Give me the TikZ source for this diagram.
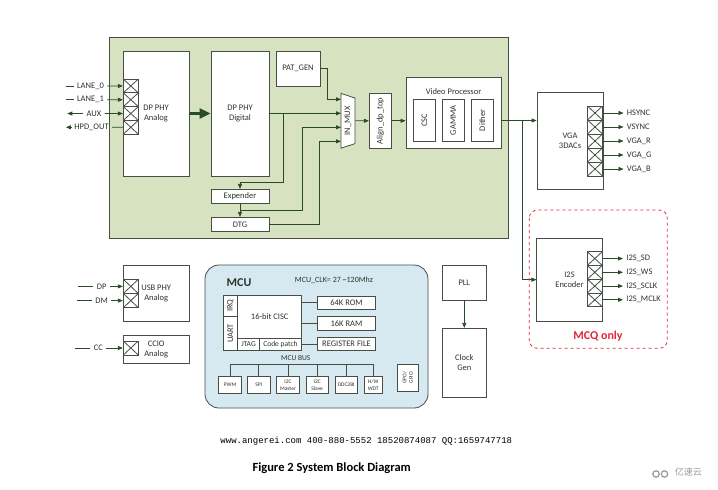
\documentclass[tikz,border=0pt]{standalone}
\usepackage{fontspec}
\setmainfont{Carlito}
\newfontfamily\cjkfont{Noto Sans CJK SC}
\newfontfamily\wwwfont{Liberation Mono}
\usetikzlibrary{arrows.meta,positioning,shapes.geometric}
\definecolor{socgreen}{RGB}{215,226,192}
\definecolor{mcublue}{RGB}{214,233,240}
\definecolor{edge}{RGB}{70,78,70}
\definecolor{wirec}{RGB}{40,75,40}
\definecolor{ink}{RGB}{45,52,45}
\definecolor{mcqred}{RGB}{228,38,58}
\tikzstyle{blk}=[draw=edge,fill=white,inner sep=1pt,align=center,text=ink,
  font=\fontsize{8.5}{10}\selectfont]
\tikzstyle{vblk}=[blk,rotate=90]
\tikzstyle{per}=[blk,minimum width=22.5,minimum height=17,
  font=\fontsize{5.5}{6.5}\selectfont]
\tikzstyle{xbox}=[draw=edge,fill=white,inner sep=0,minimum width=15,
  path picture={\draw[edge] (path picture bounding box.north west) --
    (path picture bounding box.south east) (path picture bounding box.south west)
    -- (path picture bounding box.north east);}]
\tikzstyle{port}=[inner sep=0pt,inner xsep=3pt,text=ink,
  font=\fontsize{8.5}{9.5}\selectfont]
\tikzstyle{link}=[draw=wirec]

\begin{document}
\begin{tikzpicture}[x=1pt, y=-1pt, >={Triangle[length=5pt,width=4pt]},
  line width=0.8pt, node distance=20pt, on grid]
  \useasboundingbox[fill=white] (0,0) rectangle (718,490);

  \fill[socgreen,draw=edge] (109,37) rectangle (508,238);

  \node[blk,minimum width=66,minimum height=125] (dpana) at (156,113.5) {DP PHY\\Analog};
  \node[blk,minimum width=58,minimum height=125] (dpdig) at (240,113.5) {DP PHY\\Digital};
  \node[blk,minimum width=58,minimum height=14,below=82.8pt of dpdig] (exp) {Expender};
  \node[blk,minimum width=58,minimum height=14,below=28pt of exp] (dtg) {DTG};
  \node[blk,minimum width=44,minimum height=35] (patgen) at (298,68.5) {PAT\_GEN};

  \node[draw=edge,fill=white,trapezium,trapezium stretches=true,trapezium angle=66,
    shape border rotate=180,rotate=90,minimum width=55,minimum height=14,inner sep=0,
    text=ink,font=\fontsize{8.5}{9.5}\selectfont] (mux) at (348,120.8) {IN\_MUX};
  \coordinate (in1) at (341,99.3);
  \coordinate (in2) at (341,113.3);
  \coordinate (in3) at (341,127.3);
  \coordinate (in4) at (341,141.3);

  \node[vblk,minimum width=55.6,minimum height=22] (align) at (380.3,120.8) {Align\_dp\_top};
  \node[blk,minimum width=95,minimum height=71] (vproc) at (453.5,112.8) {};
  \node[port] (vptitle) at (453.5,91.5) {Video Processor};
  \node[vblk,minimum width=41.7,minimum height=22.4] (csc) at (424.5,120.2) {CSC};
  \node[vblk,minimum width=41.7,minimum height=21.7] (gamma) at (453.2,120.2) {GAMMA};
  \node[vblk,minimum width=41.7,minimum height=22] (dither) at (482.3,120.2) {Dither};

  \draw[link,line width=2.5pt,-{Triangle[length=11pt,width=10pt]}] (dpana) -- (dpdig);
  \coordinate (br) at (283,113.3);
  \draw[link,->] (patgen.east) -- ++(7,0) |- (in1);
  \draw[link,->] (dpdig.east |- in2) -- (in2);
  \draw[link,->] (br) -- ++(0,69.4) -| (exp.north);
  \draw[link,->] (exp) -- (dtg);
  \draw[link,->] (exp.south) ++(0,6.7) -- ++(62,0) |- (in3);
  \draw[link,->] (dtg.east) -- ++(50,0) |- (in4);
  \draw[link,->] (mux) -- (align);
  \draw[link,->] (align) -- (align -| vproc.west);

  % DP input pins
  \foreach \i in {1,...,4}
    \node[xbox,minimum height=13.77] (ax\i) at (130.8,{72.2+13.77*\i}) {};
  \node[port] (lane0) at (90.5,86) {LANE\_0};
  \node[port] (lane1) at (90.5,99.8) {LANE\_1};
  \node[port] (aux) at (94,113.5) {AUX};
  \node[port] (hpd) at (91.5,127.3) {HPD\_OUT};
  \draw[link] (lane0.west) -- ++(-8,0) (lane1.west) -- ++(-8,0);
  \draw[link,->] (lane0) -- (ax1);
  \draw[link,->] (lane1) -- (ax2);
  \draw[link,->] (aux.west) -- ++(-16,0);
  \draw[link,->] (aux) -- (ax3);
  \draw[link,->] (hpd.west) -- ++(-5,0);
  \draw[link] (hpd) -- (ax4);

  % VGA and I2S
  \node[blk,minimum width=66,minimum height=96.6] (vga) at (570,141) {VGA\\3DACs};
  \node[blk,minimum width=65.3,minimum height=82.7] (i2s) at (569.5,279.7) {I2S\\Encoder};
  \coordinate (split) at (522.3,120.5);
  \draw[link,->] (vproc.east |- split) -- (vga.west |- split);
  \draw[link,->] (split) |- (i2s.west);
  \foreach \i/\t in {1/HSYNC,2/VSYNC,3/VGA\_R,4/VGA\_G,5/VGA\_B} {
    \node[xbox,minimum height=14] (vx\i) at (595,{99+14*\i}) {};
    \node[port,anchor=west] (vo\i) at (623.5,{99+14*\i}) {\t};
    \draw[link,->] (vx\i) -- (vo\i);
  }
  \foreach \i/\t in {1/I2S\_SD,2/I2S\_WS,3/I2S\_SCLK,4/I2S\_MCLK} {
    \node[xbox,minimum height=13.75] (ix\i) at (594.8,{244.8+13.75*\i}) {};
    \node[port,anchor=west] (io\i) at (623,{244.8+13.75*\i}) {\t};
    \draw[link,->] (ix\i) -- (io\i);
  }
  \draw[mcqred,dashed,rounded corners=8] (529.3,210) rectangle (667.3,348.3);
  \node[text=mcqred,font=\bfseries\fontsize{12}{14}\selectfont] (mcq) at (598,336) {MCQ only};

  % USB and CC
  \node[blk,minimum width=66,minimum height=55.3] (usb) at (156.2,293.4) {USB PHY\\Analog};
  \node[xbox,minimum height=14.2] (ux1) at (130.8,286.4) {};
  \node[xbox,minimum height=14.2] (ux2) at (130.8,300.6) {};
  \node[port] (dp) at (101.7,286.4) {DP};
  \node[port] (dm) at (101.7,300.6) {DM};
  \draw[link] (dp.west) -- ++(-15,0) (dm.west) -- ++(-15,0);
  \draw[link,->] (dp) -- (ux1);
  \draw[link,->] (dm) -- (ux2);
  \node[blk,minimum width=66,minimum height=28.3] (ccio) at (156.2,349.2) {CCIO\\Analog};
  \node[xbox,minimum height=14] (cx) at (130.8,348) {};
  \node[port] (cc) at (98.3,348) {CC};
  \draw[link] (cc.west) -- ++(-15.5,0);
  \draw[link,->] (cc) -- (cx);

  % MCU
  \node[draw=edge,fill=mcublue,rounded corners=14,minimum width=223,minimum height=143]
    (mcu) at (316.5,336.5) {};
  \node[text=ink,font=\bfseries\fontsize{12}{14}\selectfont] (mcut) at (239,283) {MCU};
  \node[port,font=\fontsize{8}{9}\selectfont] (mclk) at (334,280) {MCU\_CLK= 27 \textasciitilde120Mhz};
  \node[blk,minimum width=64,minimum height=43.3,font=\fontsize{8.5}{10}\selectfont]
    (cisc) at (269.7,316.7) {16-bit CISC};
  \node[vblk,minimum width=21,minimum height=14.4] (irq) at (230.5,305.5) {IRQ};
  \node[vblk,minimum width=34.7,minimum height=14.4] (uart) at (230.5,333.3) {UART};
  \node[blk,minimum width=21.6,minimum height=12.4,font=\fontsize{7.5}{9}\selectfont]
    (jtag) at (248.5,344.5) {JTAG};
  \node[blk,minimum width=42.4,minimum height=12.4,font=\fontsize{7.5}{9}\selectfont]
    (cpatch) at (280.5,344.5) {Code patch};
  \node[blk,minimum width=58.4,minimum height=13.3] (rom) at (346.5,302.7) {64K ROM};
  \node[blk,minimum width=58.4,minimum height=13.3,below=20.6pt of rom] (ram) {16K RAM};
  \node[blk,minimum width=58.4,minimum height=13.3,below=20.7pt of ram] (regf) {REGISTER FILE};
  \draw[link,draw=edge] (cisc.east |- rom) -- (rom) (cisc.east |- ram) -- (ram)
    (cpatch.east |- regf) -- (regf);

  \node[port,font=\fontsize{7.5}{9}\selectfont] (busl) at (295.8,358.5) {MCU BUS};
  \node[per] (pwm) at (230,385) {PWM};
  \node[per,right=28.8pt of pwm] (spi) {SPI};
  \node[per,right=29.2pt of spi] (i2cm) {I2C\\Master};
  \node[per,right=29.2pt of i2cm] (i2cs) {I2C\\Slave};
  \node[per,right=29pt of i2cs] (ddc) {DDC2BI};
  \node[per,minimum width=18,right=27pt of ddc] (wdt) {H/W\\WDT};
  \draw[link,draw=edge] (pwm.north) -- ++(0,-11.7) -| (wdt.north);
  \foreach \p in {spi,i2cm,i2cs,ddc}
    \draw[link,draw=edge] (\p.north) -- ++(0,-11.7);
  \node[vblk,minimum width=26.7,minimum height=21,font=\fontsize{5.5}{6.5}\selectfont]
    (gpio) at (407.8,377.7) {GPO/\\GPIO};

  % clocks
  \node[blk,minimum width=43.3,minimum height=34.3] (pll) at (464.3,282.8) {PLL};
  \node[blk,minimum width=43.3,minimum height=69,below=80pt of pll] (clkgen) {Clock\\Gen};
  \draw[link,->] (pll) -- (clkgen);

  \node[font=\wwwfont\fontsize{9}{10}\selectfont] (www) at (366.3,441)
    {www.angerei.com 400-880-5552 18520874087 QQ:1659747718};
  \node[font=\bfseries\fontsize{12.5}{14}\selectfont] (caption) at (331.7,468.3)
    {Figure 2 System Block Diagram};
  \node[text=black!40,font=\cjkfont\fontsize{9}{10}\selectfont] (wm) at (688.3,472.3) {亿速云};
  \draw[black!40,line width=1.2pt] (656,474) circle (3.2) (664.5,474) circle (3.2);
\end{tikzpicture}
\end{document}
